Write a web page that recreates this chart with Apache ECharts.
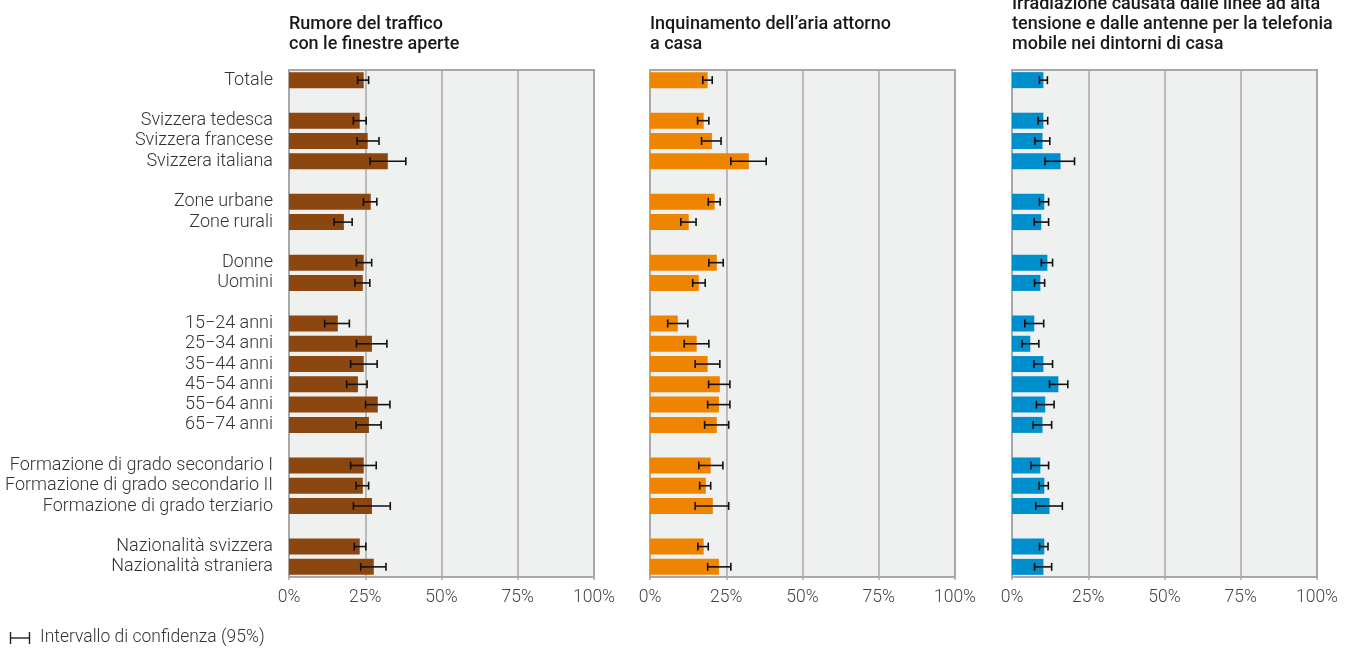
<!DOCTYPE html>
<html>
<head>
<meta charset="utf-8">
<script src="https://cdn.jsdelivr.net/npm/echarts@6/dist/echarts.min.js"></script>
<style>
html,body{margin:0;padding:0;background:#fff;}
#chart{width:1354px;height:648px;}
</style>
</head>
<body>
<div id="chart"></div>
<script>
const categories = ['Totale', '', 'Svizzera tedesca', 'Svizzera francese', 'Svizzera italiana', '', 'Zone urbane', 'Zone rurali', '', 'Donne', 'Uomini', '', '15−24 anni', '25−34 anni', '35−44 anni', '45−54 anni', '55−64 anni', '65−74 anni', '', 'Formazione di grado secondario I', 'Formazione di grado secondario II', 'Formazione di grado terziario', '', 'Nazionalità svizzera', 'Nazionalità straniera'];

const titles = ['Rumore del traffico\ncon le finestre aperte', 'Inquinamento dell’aria attorno\na casa', 'Irradiazione causata dalle linee ad alta\ntensione e dalle antenne per la telefonia\nmobile nei dintorni di casa'];

const xTicks = [0, 25, 50, 75, 100];

const noise     = [24.5, null, 23.2, 25.8, 32.4, null, 26.8, 18.0, null, 24.5, 24.2, null, 16.0, 27.2, 24.5, 22.6, 29.1, 26.2, null, 24.5, 24.2, 27.2, null, 23.2, 27.8];
const noiseLow  = [22.5, null, 21.1, 22.3, 26.6, null, 24.4, 14.8, null, 22.1, 21.6, null, 11.7, 22.1, 20.2, 18.9, 25.1, 22.0, null, 20.2, 22.0, 21.1, null, 21.4, 23.5];
const noiseHigh = [26.1, null, 25.3, 29.5, 38.3, null, 28.8, 20.7, null, 27.1, 26.5, null, 19.8, 32.1, 28.9, 25.6, 33.1, 30.2, null, 28.6, 26.1, 33.2, null, 25.2, 31.8];

const air     = [18.9, null, 17.6, 20.3, 32.4, null, 21.2, 12.7, null, 21.9, 16.0, null, 9.1, 15.3, 18.9, 22.9, 22.6, 21.9, null, 19.9, 18.3, 20.6, null, 17.6, 22.6];
const airLow  = [17.3, null, 15.6, 16.9, 26.5, null, 19.1, 10.1, null, 19.3, 14.0, null, 5.8, 11.2, 14.8, 19.2, 18.9, 17.9, null, 16.0, 16.3, 14.8, null, 15.7, 18.9];
const airHigh = [20.4, null, 19.3, 23.3, 38.1, null, 23.0, 15.1, null, 24.0, 18.1, null, 12.4, 19.3, 22.9, 26.2, 26.2, 25.8, null, 23.9, 19.9, 25.8, null, 19.1, 26.5];

const rad     = [10.3, null, 10.3, 10.0, 15.9, null, 10.6, 9.6, null, 11.6, 9.3, null, 7.3, 6.0, 10.3, 15.2, 10.9, 10.0, null, 9.3, 10.6, 12.3, null, 10.6, 10.3];
const radLow  = [9.0, null, 8.6, 7.5, 10.8, null, 9.0, 7.3, null, 9.6, 7.4, null, 4.2, 3.3, 7.2, 12.3, 8.0, 6.9, null, 6.2, 8.9, 7.8, null, 9.0, 7.4];
const radHigh = [11.6, null, 11.7, 12.4, 20.5, null, 12.0, 12.0, null, 13.3, 10.7, null, 10.4, 8.8, 13.3, 18.3, 13.8, 13.0, null, 12.0, 11.9, 16.5, null, 11.8, 13.0];

const legendLabel = 'Intervallo di confidenza (95%)';

const panels = [
  {vals: noise, low: noiseLow, high: noiseHigh, color: '#8c460f'},
  {vals: air, low: airLow, high: airHigh, color: '#ef8400'},
  {vals: rad, low: radLow, high: radHigh, color: '#008fcd'}
];
const gridLefts = [289, 650, 1012];
const FONT = 'Roboto, "Noto Sans", sans-serif';

function renderCI(params, api) {
  const y = api.value(0);
  const p1 = api.coord([api.value(1), y]);
  const p2 = api.coord([api.value(2), y]);
  const h = 4;
  const st = {stroke: '#111', lineWidth: 1.6};
  return {
    type: 'group',
    children: [
      {type: 'line', shape: {x1: p1[0], y1: p1[1], x2: p2[0], y2: p2[1]}, style: st},
      {type: 'line', shape: {x1: p1[0], y1: p1[1] - h, x2: p1[0], y2: p1[1] + h}, style: st},
      {type: 'line', shape: {x1: p2[0], y1: p2[1] - h, x2: p2[0], y2: p2[1] + h}, style: st}
    ]
  };
}

const grid = [], xAxis = [], yAxis = [], series = [], title = [];
panels.forEach((p, i) => {
  grid.push({left: gridLefts[i], width: 305, top: 70, height: 507, show: true,
    backgroundColor: '#eff0f0', borderColor: '#a8a8a8', borderWidth: 2});
  xAxis.push({type: 'value', gridIndex: i, min: xTicks[0], max: xTicks[xTicks.length - 1], interval: 25,
    axisLine: {show: true, lineStyle: {color: '#a8a8a8', width: 2}},
    axisTick: {show: true, length: 3, lineStyle: {color: '#a8a8a8', width: 1.5}},
    splitLine: {show: true, lineStyle: {color: '#a8a8a8', width: 1.5}},
    axisLabel: {formatter: '{value}%', color: '#444', fontSize: 17.5, fontWeight: 300, fontFamily: FONT, margin: 12}
  });
  yAxis.push({type: 'category', gridIndex: i, data: categories, inverse: true,
    axisLine: {show: true, lineStyle: {color: '#a8a8a8', width: 2}},
    axisTick: {show: false},
    axisLabel: {show: i === 0, color: '#333', fontSize: 18, fontWeight: 300, fontFamily: FONT, margin: 16, interval: 0}
  });
  series.push({type: 'bar', xAxisIndex: i, yAxisIndex: i, data: p.vals, barWidth: 16,
    itemStyle: {color: p.color}, silent: true});
  const ciData = [];
  p.low.forEach((lo, k) => { if (lo != null) ciData.push([k, lo, p.high[k]]); });
  series.push({type: 'custom', xAxisIndex: i, yAxisIndex: i, renderItem: renderCI,
    data: ciData, encode: {x: [1, 2], y: 0}, z: 5, silent: true});
  const nLines = titles[i].split('\n').length;
  title.push({text: titles[i], left: gridLefts[i], top: 54 - nLines * 20, padding: 0,
    textStyle: {fontSize: 18, fontWeight: 500, lineHeight: 20, color: '#1a1a1a', fontFamily: FONT}});
});

const chart = echarts.init(document.getElementById('chart'), null, {renderer: 'canvas'});
chart.setOption({
  animation: false,
  backgroundColor: '#fff',
  title: title,
  grid: grid,
  xAxis: xAxis,
  yAxis: yAxis,
  series: series,
  graphic: [
    {type: 'line', shape: {x1: 10, y1: 638, x2: 30, y2: 638}, style: {stroke: '#222', lineWidth: 1.4}},
    {type: 'line', shape: {x1: 10.5, y1: 632, x2: 10.5, y2: 644}, style: {stroke: '#222', lineWidth: 1.4}},
    {type: 'line', shape: {x1: 29.5, y1: 632, x2: 29.5, y2: 644}, style: {stroke: '#222', lineWidth: 1.4}},
    {type: 'text', x: 40, y: 638, style: {text: legendLabel, fill: '#333', fontSize: 17.5, fontWeight: 300, fontFamily: FONT, verticalAlign: 'middle'}}
  ]
});
</script>
</body>
</html>
